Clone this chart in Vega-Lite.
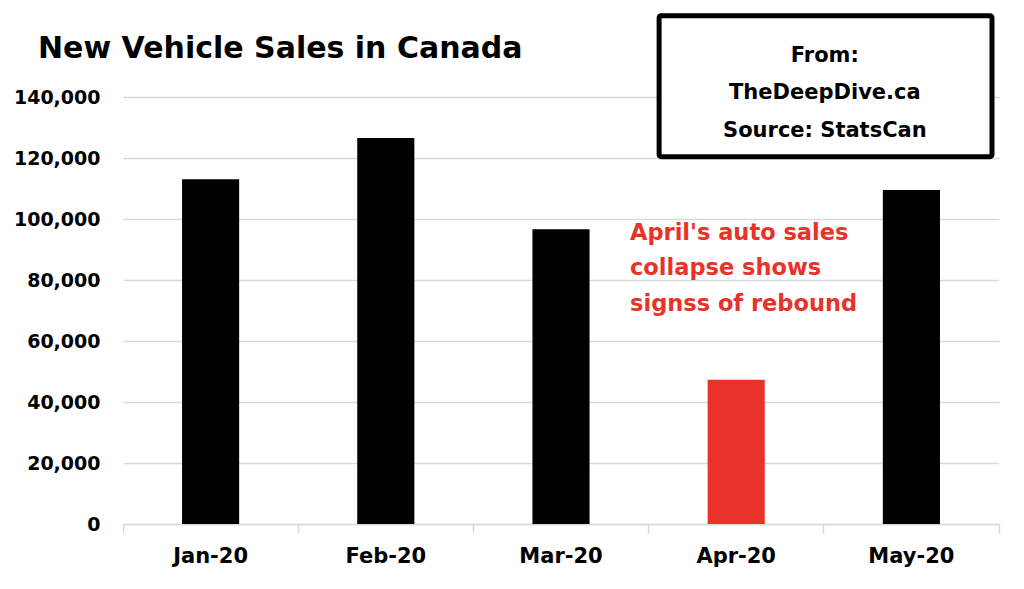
{
  "$schema": "https://vega.github.io/schema/vega-lite/v6.json",
  "width": 876,
  "height": 427,
  "autosize": {"type": "none"},
  "padding": {"left": 123, "top": 97, "right": 25, "bottom": 65},
  "background": "white",
  "config": {"view": {"stroke": null}, "font": "DejaVu Sans"},
  "title": {
    "text": "New Vehicle Sales in Canada",
    "anchor": "start",
    "frame": "group",
    "dx": -85,
    "offset": -51,
    "fontSize": 30,
    "font": "DejaVu Sans",
    "fontWeight": "bold",
    "color": "black"
  },
  "data": {
    "values": [
      {"month": "Jan-20", "sales": 113000},
      {"month": "Feb-20", "sales": 126550},
      {"month": "Mar-20", "sales": 96600},
      {"month": "Apr-20", "sales": 47330},
      {"month": "May-20", "sales": 109500}
    ]
  },
  "layer": [
    {
      "mark": {"type": "bar", "width": {"band": 0.326}},
      "encoding": {
        "x": {
          "field": "month",
          "type": "nominal",
          "sort": null,
          "scale": {"paddingInner": 0, "paddingOuter": 0},
          "axis": {
            "title": null,
            "labelAngle": 0,
            "bandPosition": 1,
            "tickExtra": true,
            "tickSize": 9,
            "tickWidth": 1.5,
            "tickColor": "#d9d9d9",
            "domainColor": "#d9d9d9",
            "domainWidth": 1.5,
            "labelPadding": 12,
            "labelFontSize": 21,
            "labelFont": "DejaVu Sans",
            "labelFontWeight": "bold",
            "labelColor": "black"
          }
        },
        "y": {
          "field": "sales",
          "type": "quantitative",
          "scale": {"domain": [0, 140000], "nice": false},
          "axis": {
            "title": null,
            "values": [0, 20000, 40000, 60000, 80000, 100000, 120000, 140000],
            "labelExpr": "format(datum.value, ',')",
            "grid": true,
            "gridColor": "#d9d9d9",
            "gridWidth": 1.5,
            "domain": false,
            "ticks": false,
            "labelPadding": 23,
            "labelFontSize": 19,
            "labelFont": "DejaVu Sans",
            "labelFontWeight": "bold",
            "labelColor": "black"
          }
        },
        "color": {
          "condition": {"test": "datum.month === 'Apr-20'", "value": "#e8322a"},
          "value": "black"
        }
      }
    },
    {
      "data": {"values": [{}]},
      "layer": [
        {
          "mark": {"type": "rect", "fill": "white", "stroke": "black", "strokeWidth": 5, "cornerRadius": 2},
          "encoding": {
            "x": {"datum": 3.06, "type": "quantitative", "scale": {"domain": [0, 5], "nice": false, "zero": false}, "axis": null},
            "x2": {"datum": 4.96},
            "y": {
              "datum": 166650,
              "type": "quantitative",
              "axis": {
                "title": null,
                "values": [0, 20000, 40000, 60000, 80000, 100000, 120000, 140000],
                "labelExpr": "format(datum.value, ',')",
                "grid": true,
                "gridColor": "#d9d9d9",
                "gridWidth": 1.5,
                "domain": false,
                "ticks": false,
                "labelPadding": 23,
                "labelFontSize": 19,
                "labelFont": "DejaVu Sans",
                "labelFontWeight": "bold",
                "labelColor": "black"
              }
            },
            "y2": {"datum": 120430}
          }
        },
        {
          "mark": {
            "type": "text",
            "text": ["From:", "TheDeepDive.ca", "Source: StatsCan"],
            "align": "center",
            "baseline": "middle",
            "lineHeight": 37.5,
            "fontSize": 21,
            "fontWeight": "bold",
            "font": "DejaVu Sans",
            "color": "black"
          },
          "encoding": {
            "x": {"datum": 4.006, "type": "quantitative"},
            "y": {
              "datum": 153600,
              "type": "quantitative",
              "axis": {
                "title": null,
                "values": [0, 20000, 40000, 60000, 80000, 100000, 120000, 140000],
                "labelExpr": "format(datum.value, ',')",
                "grid": true,
                "gridColor": "#d9d9d9",
                "gridWidth": 1.5,
                "domain": false,
                "ticks": false,
                "labelPadding": 23,
                "labelFontSize": 19,
                "labelFont": "DejaVu Sans",
                "labelFontWeight": "bold",
                "labelColor": "black"
              }
            }
          }
        },
        {
          "mark": {
            "type": "text",
            "text": ["April's auto sales", "collapse shows", "signss of rebound"],
            "align": "left",
            "baseline": "middle",
            "lineHeight": 35.5,
            "fontSize": 22.5,
            "fontWeight": "bold",
            "font": "DejaVu Sans",
            "color": "#e8322a"
          },
          "encoding": {
            "x": {"datum": 2.894, "type": "quantitative"},
            "y": {
              "datum": 95500,
              "type": "quantitative",
              "axis": {
                "title": null,
                "values": [0, 20000, 40000, 60000, 80000, 100000, 120000, 140000],
                "labelExpr": "format(datum.value, ',')",
                "grid": true,
                "gridColor": "#d9d9d9",
                "gridWidth": 1.5,
                "domain": false,
                "ticks": false,
                "labelPadding": 23,
                "labelFontSize": 19,
                "labelFont": "DejaVu Sans",
                "labelFontWeight": "bold",
                "labelColor": "black"
              }
            }
          }
        }
      ]
    }
  ],
  "resolve": {"scale": {"x": "independent"}, "axis": {"x": "independent"}}
}
